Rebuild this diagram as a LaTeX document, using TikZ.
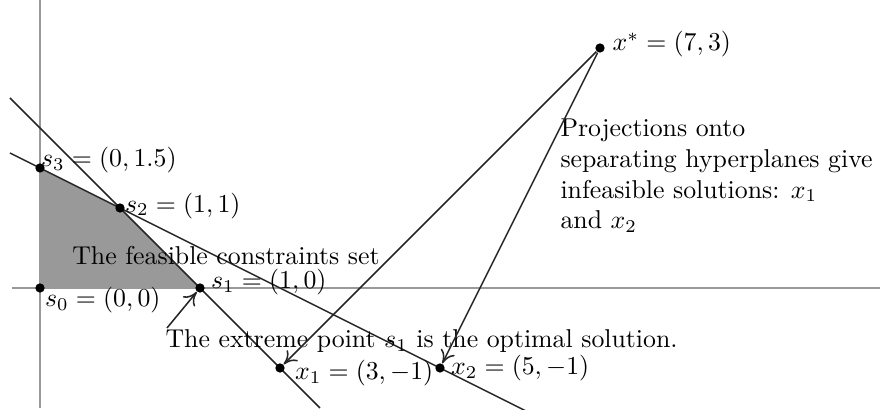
\documentclass[tikz,border=0pt]{standalone}
\usepackage{amsmath, amssymb}
\usepackage{tikz}
\usetikzlibrary{arrows,arrows.meta,positioning,calc}

\begin{document}
\begin{tikzpicture}[
    x=1.09cm, y=1.09cm,
    dot/.style={circle, fill=black, inner sep=0pt, minimum size=3.6pt},
    axis/.style={gray!80, thin},
    hyper/.style={black!85, semithick},
    proj/.style={black!85, semithick, -{To[length=5pt,width=6pt]}},
    lbl/.style={anchor=west, inner sep=1pt}
]
\useasboundingbox (-0.5,-1.525) rectangle (10.525,3.6);
% axes
\draw[axis] (-0.35,0) -- (10.5,0);
\draw[axis] (0,3.6) -- (0,-1.5);
% feasible set
\fill[black!40] (0,0) -- (0,1.5) -- (1,1) -- (2,0) -- cycle;
% separating hyperplanes
\draw[hyper] (-0.375,2.375) -- (3.5,-1.5);
\draw[hyper] (-0.375,1.6875) -- (6.1,-1.55);
% points
\node[dot] (s0) at (0,0) {};
\node[dot] (s1) at (2,0) {};
\node[dot] (s2) at (1,1) {};
\node[dot] (s3) at (0,1.5) {};
\node[dot] (x1) at (3,-1) {};
\node[dot] (x2) at (5,-1) {};
\node[dot] (xs) at (7,3) {};
% labels
\node[lbl] (s0lbl) at (0.025,-0.15) {$s_0=(0,0)$};
\node[lbl] (s1lbl) at (2.1,0.075) {$s_1=(1,0)$};
\node[lbl] (s2lbl) at (1.025,1.03) {$s_2=(1,1)$};
\node[lbl] (s3lbl) at (-0.025,1.6) {$s_3=(0,1.5)$};
\node[lbl] (x1lbl) at (3.15,-1.06) {$x_1=(3,-1)$};
\node[lbl] (x2lbl) at (5.1,-1.0) {$x_2=(5,-1)$};
\node[lbl] (xslbl) at (7.12,3.05) {$x^*=(7,3)$};
\node (feas) at (2.325,0.41) {The feasible constraints set};
\node (opt) at (4.77,-0.66) {The extreme point $s_1$ is the optimal solution.};
\node[anchor=north west, align=left, inner sep=0pt] (proj) at (6.5,2.125)
    {Projections onto\\separating hyperplanes give\\infeasible solutions: $x_1$\\and $x_2$};
% projections
\coordinate (optarr) at (1.5875,-0.5);
\draw[proj] (optarr) -- (s1);
\draw[proj] (xs) -- (x1);
\draw[proj] (xs) -- (x2);
\end{tikzpicture}
\end{document}
